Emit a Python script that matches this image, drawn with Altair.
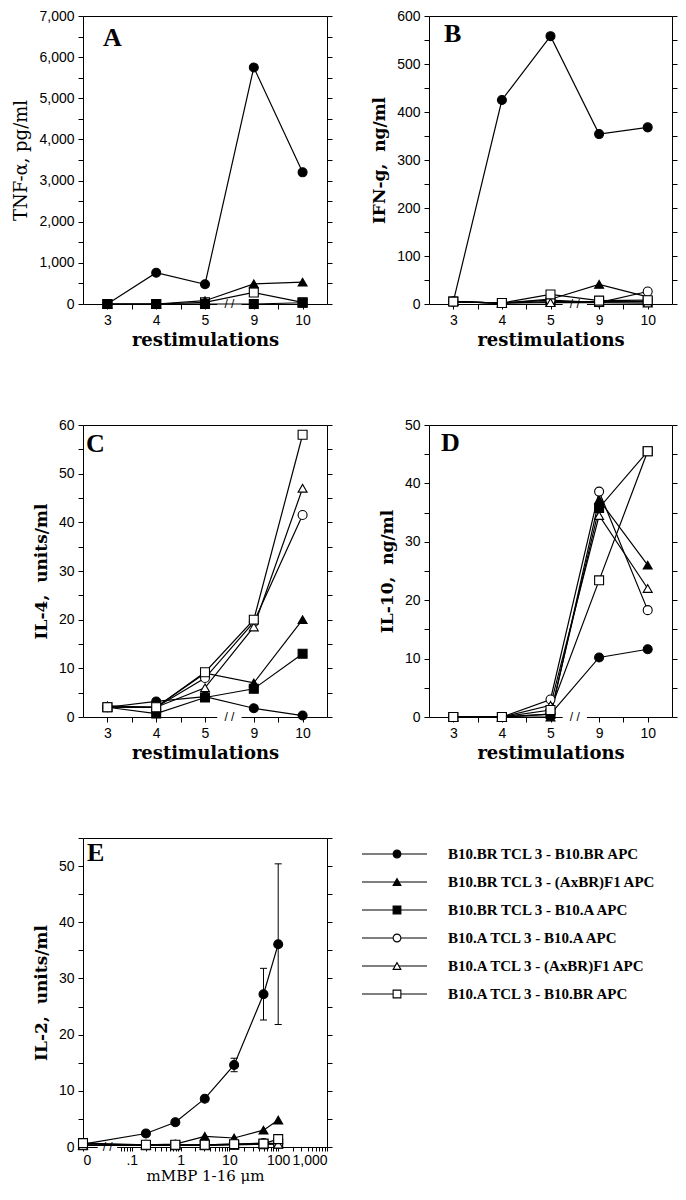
import json
import altair as alt
import pandas as pd

# ---------------- data ----------------
SERIES = ["B10.BR TCL 3 - B10.BR APC", "B10.BR TCL 3 - (AxBR)F1 APC", "B10.BR TCL 3 - B10.A APC",
          "B10.A TCL 3 - B10.A APC", "B10.A TCL 3 - (AxBR)F1 APC", "B10.A TCL 3 - B10.BR APC"]
SHAPES = ["circle", "triangle-up", "square", "circle", "triangle-up", "square"]
FILLS = ["black", "black", "black", "white", "white", "white"]

RESTIM = ["3", "4", "5", "9", "10"]

TNF = [[0, 760, 480, 5750, 3200],
       [0, 0, 80, 490, 530],
       [0, 0, 0, 0, 30],
       [None, None, None, None, None],
       [None, None, None, None, None],
       [0, 0, 40, 280, 40]]

IFN = [[5, 425, 558, 354, 368],
       [5, 2, 10, 41, 15],
       [5, 2, 5, 5, 5],
       [5, 2, 8, 3, 26],
       [5, 2, 3, 3, 2],
       [5, 2, 20, 7, 8]]

IL4 = [[2, 3.2, 4.2, 1.8, 0.3],
       [2.3, 2, 9, 7, 20],
       [2, 0.7, 4, 5.8, 13],
       [2, 2, 8, 19.5, 41.5],
       [2, 2, 6, 18.5, 47],
       [2, 2, 9.2, 20, 58]]

IL10 = [[0, 0, 0.5, 10.2, 11.6],
        [0, 0, 0, 37.2, 26],
        [0, 0, 0.5, 35.8, 45.5],
        [0, 0, 3, 38.6, 18.3],
        [0, 0, 2, 34.5, 22],
        [0, 0, 1.2, 23.4, 45.5]]

# first concentration is the "0" point drawn at the axis origin
MMBP = [0.01, 0.195, 0.78, 3.125, 12.5, 50, 100]
IL2 = [[0.5, 2.4, 4.4, 8.6, 14.6, 27.2, 36.1],
       [0.3, 0.4, 0.5, 1.9, 1.6, 3.0, 4.8],
       [0.3, 0.3, 0.3, 0.3, 0.4, 0.5, 0.6],
       [0.5, 0.4, 0.4, 0.4, 0.5, 0.7, 0.6],
       [0.3, 0.3, 0.3, 0.3, 0.4, 0.5, 0.5],
       [0.7, 0.4, 0.4, 0.4, 0.5, 0.6, 1.4]]
IL2_ERR = [0, 0, 0, 0, 1.2, 4.6, 14.3]

E_MAJOR = [0.01, 0.1, 1, 10, 100, 1000]
E_TICK_LABELS = ["0", ".1", "1", "10", "100", "1,000"]

# ---------------- styling ----------------
FONT_SANS = "Liberation Sans"
FONT_TITLE = "DejaVu Serif"
FONT_LETTER = "Liberation Serif"

shape_scale = alt.Scale(domain=SERIES, range=SHAPES)
fill_scale = alt.Scale(domain=SERIES, range=FILLS)


def series_df(values, xs, draw_order):
    rows = []
    for si, vals in enumerate(values):
        for xi, v in enumerate(vals):
            if v is None:
                continue
            rows.append({"x": xs[xi], "v": v, "s": SERIES[si], "z": draw_order.index(si)})
    return pd.DataFrame(rows)


def ylab_expr(step, comma):
    fmt = "," if comma else "d"
    return f"datum.value % {step} == 0 ? format(datum.value, '{fmt}') : ''"


def panel(df, xscale, yscale, xaxis, yvals, ylabexpr, ytitle, ybold, ytsize,
          letter, lx, ly, brk_lo, brk_hi, brk_mid, w, h, extra=None):
    left = alt.Axis(orient="left", values=yvals, labelExpr=ylabexpr, title=ytitle,
                    titleFont=FONT_TITLE, titleFontSize=ytsize,
                    titleFontWeight="bold" if ybold else "normal",
                    titlePadding=8, labelPadding=4, zindex=0)
    right = alt.Axis(orient="right", values=yvals, labels=False, title=None, zindex=0)
    top = alt.Axis(orient="top", labels=False, ticks=False, title=None, zindex=0)
    brk = pd.DataFrame({"a": [brk_lo], "b": [brk_hi], "m": [brk_mid], "y0": [0]})
    frame = alt.Chart(brk).mark_rule(color="white", strokeWidth=5).encode(
        x=alt.X("a:Q", scale=xscale, axis=top), x2="b:Q",
        y=alt.Y("y0:Q", scale=yscale, axis=right))
    lines = alt.Chart(df).mark_line(color="black", strokeWidth=1.2).encode(
        x=alt.X("x:Q", scale=xscale, axis=xaxis),
        y=alt.Y("v:Q", scale=yscale, axis=left), detail="s:N")
    pts = alt.Chart(df).mark_point(filled=True, size=80, stroke="black", strokeWidth=1.1, opacity=1).encode(
        x=alt.X("x:Q", scale=xscale, axis=None), y=alt.Y("v:Q", scale=yscale, axis=None),
        shape=alt.Shape("s:N", scale=shape_scale, legend=None),
        fill=alt.Fill("s:N", scale=fill_scale, legend=None),
        order=alt.Order("z:Q"))
    slash = alt.Chart(brk).mark_text(text="/ /", font=FONT_SANS, fontSize=12, color="black").encode(
        x=alt.X("m:Q", scale=xscale, axis=None), y=alt.Y("y0:Q", scale=yscale, axis=None))
    lab = alt.Chart(pd.DataFrame({"t": [letter]})).mark_text(
        align="left", baseline="top", font=FONT_LETTER, fontSize=26, fontWeight="bold", color="black").encode(
        x=alt.value(lx), y=alt.value(ly), text="t:N")
    layers = [frame, lines] + (extra or []) + [pts, slash, lab]
    return alt.layer(*layers).resolve_axis(x="independent", y="independent").properties(width=w, height=h)


# x axis for restimulation panels
RESTIM_TICKS = [0, 0.5, 1, 1.5, 2, 3, 3.5, 4]
restim_expr = "datum.value % 1 == 0 ? " + json.dumps(RESTIM) + "[datum.value] : ''"
xs_r = alt.Scale(domain=[-0.5, 4.5], nice=False, zero=False)


def restim_axis():
    return alt.Axis(orient="bottom", values=RESTIM_TICKS, labelExpr=restim_expr,
                    title="restimulations", titleFont=FONT_TITLE, titleFontSize=18,
                    titleFontWeight="bold", titlePadding=4, labelPadding=4, zindex=0)


XI = [0, 1, 2, 3, 4]
W1, W2 = 244, 243
H1, H2, H3 = 288, 292, 309

pA = panel(series_df(TNF, XI, [5, 0, 1, 2, 3, 4]), xs_r,
           alt.Scale(domain=[0, 7000], nice=False), restim_axis(),
           list(range(0, 7001, 500)), ylab_expr(1000, True), "TNF-α, pg/ml", False, 18,
           "A", 20, 9, 2.25, 2.75, 2.5, W1, H1)
pB = panel(series_df(IFN, XI, [0, 1, 2, 3, 4, 5]), xs_r,
           alt.Scale(domain=[0, 600], nice=False), restim_axis(),
           list(range(0, 601, 50)), ylab_expr(100, False), "IFN-g,\u00a0 ng/ml", True, 17,
           "B", 15, 5, 2.25, 2.75, 2.5, W2, H1)
pC = panel(series_df(IL4, XI, [0, 1, 2, 3, 4, 5]), xs_r,
           alt.Scale(domain=[0, 60], nice=False), restim_axis(),
           list(range(0, 61, 5)), ylab_expr(10, False), "IL-4,\u00a0 units/ml", True, 17,
           "C", 3, 6, 2.25, 2.75, 2.5, W1, H2)
pD = panel(series_df(IL10, XI, [0, 1, 2, 3, 4, 5]), xs_r,
           alt.Scale(domain=[0, 50], nice=False), restim_axis(),
           list(range(0, 51, 5)), ylab_expr(10, False), "IL-10,\u00a0 ng/ml", True, 17,
           "D", 12, 5, 2.25, 2.75, 2.5, W2, H2)

# panel E
xs_e = alt.Scale(type="log", domain=[0.01, 1000], nice=False)
ys_e = alt.Scale(domain=[0, 55], nice=False)
E_MINOR = [m / 100 for m in range(6, 10)] + [m * d for d in (0.1, 1, 10, 100) for m in range(2, 10)]
e_expr = " : ".join(f"datum.value == {v} ? '{t}'" for v, t in zip(E_MAJOR, E_TICK_LABELS)) + " : ''"
e_xaxis = alt.Axis(orient="bottom", values=E_MAJOR + E_MINOR, labelExpr=e_expr,
                   title="mMBP 1-16 μm", titleFont=FONT_TITLE, titleFontSize=15,
                   titleFontWeight="normal", titlePadding=1, labelPadding=2, tickSize=4, zindex=0)
err_df = pd.DataFrame({"x": [c for c, e in zip(MMBP, IL2_ERR) if e > 0],
                       "lo": [m - e for m, e in zip(IL2[0], IL2_ERR) if e > 0],
                       "hi": [m + e for m, e in zip(IL2[0], IL2_ERR) if e > 0]})
err_rule = alt.Chart(err_df).mark_rule(color="black", strokeWidth=1).encode(
    x=alt.X("x:Q", scale=xs_e, axis=None), y=alt.Y("lo:Q", scale=ys_e, axis=None), y2="hi:Q")
cap_lo = alt.Chart(err_df).mark_point(shape="stroke", size=50, color="black", strokeWidth=1, opacity=1).encode(
    x=alt.X("x:Q", scale=xs_e, axis=None), y=alt.Y("lo:Q", scale=ys_e, axis=None))
cap_hi = alt.Chart(err_df).mark_point(shape="stroke", size=50, color="black", strokeWidth=1, opacity=1).encode(
    x=alt.X("x:Q", scale=xs_e, axis=None), y=alt.Y("hi:Q", scale=ys_e, axis=None))

pE = panel(series_df(IL2, MMBP, [0, 1, 2, 3, 4, 5]), xs_e, ys_e, e_xaxis,
           list(range(0, 56, 5)), "datum.value % 10 == 0 ? format(datum.value, 'd') : ''",
           "IL-2,\u00a0 units/ml", True, 17,
           "E", 4, 2, 0.02, 0.05, 0.032, W1, H3, extra=[err_rule, cap_lo, cap_hi])

# legend panel
leg = pd.DataFrame({"s": SERIES, "r": list(range(len(SERIES)))})
ys_l = alt.Scale(domain=[0, 5], range=[16, 156])
l_rules = alt.Chart(leg).mark_rule(color="black", strokeWidth=1.2).encode(
    x=alt.value(-67), x2=alt.value(-2), y=alt.Y("r:Q", scale=ys_l, axis=None))
l_pts = alt.Chart(leg).mark_point(filled=True, size=60, stroke="black", strokeWidth=1.1, opacity=1).encode(
    x=alt.value(-32), y=alt.Y("r:Q", scale=ys_l, axis=None),
    shape=alt.Shape("s:N", scale=shape_scale, legend=None),
    fill=alt.Fill("s:N", scale=fill_scale, legend=None))
l_txt = alt.Chart(leg).mark_text(align="left", baseline="middle", font=FONT_LETTER, fontSize=15,
                                 fontWeight="bold", color="black").encode(
    x=alt.value(19), y=alt.Y("r:Q", scale=ys_l, axis=None), text="s:N")
pL = alt.layer(l_rules, l_pts, l_txt).properties(width=W2, height=H3)

chart = alt.concat(pA, pB, pC, pD, pE, pL, columns=2,
                   spacing={"row": 121, "column": 102}, bounds="flush", align="each").properties(
    padding={"left": 4, "top": 0, "right": 0, "bottom": 0}, background="white")
chart = chart.configure_view(stroke="transparent").configure_axis(
    domainColor="black", tickColor="black", labelColor="black", titleColor="black",
    grid=False, labelFont=FONT_SANS, labelFontSize=14, tickSize=5, domainWidth=1, tickWidth=1)

chart.save("out.html", embed_options={"renderer": "svg", "actions": False})
